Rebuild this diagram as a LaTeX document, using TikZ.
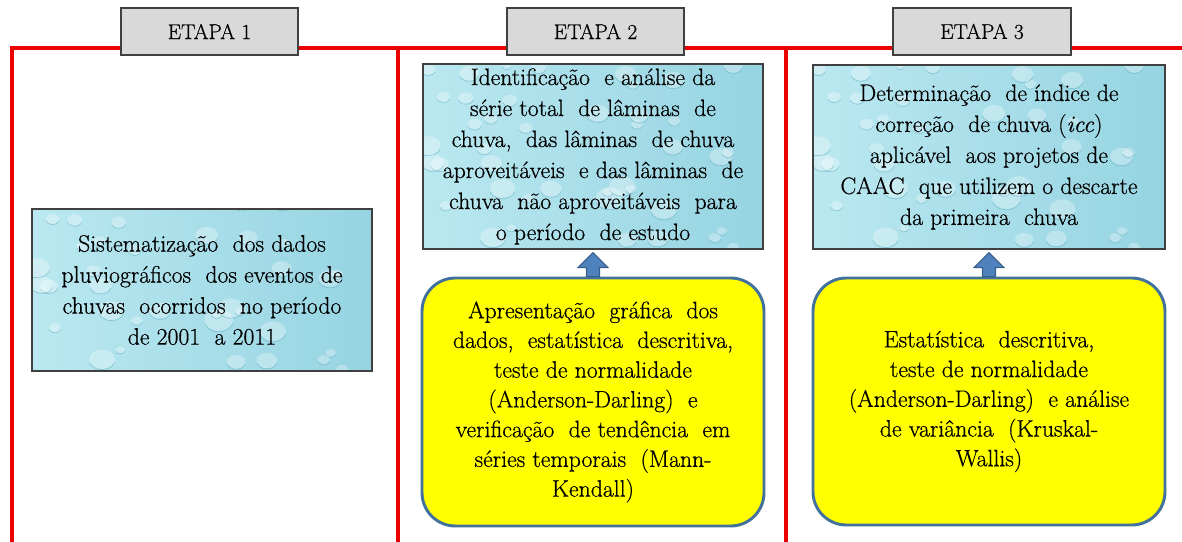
\documentclass[tikz,border=0pt]{standalone}
\usepackage{fontspec}
\setmainfont{Latin Modern Roman}[FakeBold=0.6]
\usetikzlibrary{calc}
\definecolor{lineRed}{RGB}{235,0,0}
\definecolor{etapaFill}{RGB}{217,217,217}
\definecolor{etapaDraw}{RGB}{64,64,64}
\definecolor{waterA}{RGB}{186,232,240}
\definecolor{waterB}{RGB}{150,212,226}
\definecolor{waterDark}{RGB}{95,170,190}
\definecolor{boxYellow}{RGB}{255,255,0}
\definecolor{boxBlueLine}{RGB}{65,113,156}
\definecolor{arrowFill}{RGB}{79,129,189}
\definecolor{arrowDraw}{RGB}{56,93,138}
\newcommand{\mydroplets}[2]{%
  \pgfmathsetseed{#2}%
  \foreach \k in {1,...,#1}{%
    \pgfmathsetmacro{\da}{rnd}%
    \pgfmathsetmacro{\db}{rnd}%
    \pgfmathsetmacro{\dr}{4+11*rnd}%
    \fill[white,opacity=0.30]
      ($(path picture bounding box.south west)!\da!(path picture bounding box.south east)$)
      ++(0,{-\db*260}) ellipse [x radius=\dr, y radius={0.75*\dr}];
    \draw[waterDark,opacity=0.45,line width=0.6pt]
      ($(path picture bounding box.south west)!\da!(path picture bounding box.south east)$)
      ++(0,{-\db*260}) ++(15:\dr) arc[start angle=15,end angle=165,x radius=\dr,y radius={0.75*\dr}];
  }%
}
\tikzset{
  redline/.style={draw=lineRed,line width=2.4pt},
  etapa/.style={draw=etapaDraw,fill=etapaFill,line width=0.8pt,minimum height=35.25pt,
    font=\fontsize{16pt}{19pt}\selectfont,inner sep=0pt},
  water/.style={draw=etapaDraw,line width=1pt,left color=waterA,right color=waterB,
    align=center,inner sep=0pt,font=\fontsize{17.8pt}{23.25pt}\selectfont,
    path picture={\mydroplets{#1}{11}}},
  water/.default=55,
  yellowbox/.style={draw=boxBlueLine,fill=boxYellow,line width=2.2pt,rounded corners=25pt,
    align=center,inner sep=0pt,font=\fontsize{17.8pt}{22.3pt}\selectfont},
  blockarrow/.style={fill=arrowFill,draw=arrowDraw,line width=0.8pt,line join=miter}
}
\begin{document}
\begin{tikzpicture}[x=0.75pt,y=-0.75pt]
\useasboundingbox (0,0) rectangle (1182,542);
% red frame lines
\coordinate (c0) at (12,542);
\coordinate (c1) at (12,48);
\coordinate (c2) at (1182,48);
\coordinate (c3) at (398,48);
\coordinate (c4) at (398,542);
\coordinate (c5) at (786,48);
\coordinate (c6) at (786,542);
\draw[redline] (c0) -- (c1) -- (c2);
\draw[redline] (c3) -- (c4);
\draw[redline] (c5) -- (c6);
% stage headers
\node[etapa,minimum width=132.75pt] (e1) at (209.5,31.5) {ETAPA 1};
\node[etapa,minimum width=132.75pt] (e2) at (595.5,31.5) {ETAPA 2};
\node[etapa,minimum width=133.5pt] (e3) at (982,31.5) {ETAPA 3};
% water boxes
\node[water,minimum width=255pt,minimum height=121.5pt] (b1) at (202,290) {%
Sistematização\ \ dos dados\\
pluviográficos\ \ dos eventos de\\
chuvas\ \ ocorridos\ \ no período\\
de 2001\ \ a 2011};
\node[water,minimum width=255pt,minimum height=138.75pt] (b2) at (593,156.5) {%
Identificação\ \ e análise da\\
série total\ \ de lâminas\ \ de\\
chuva,\ \ das lâminas\ \ de chuva\\
aproveitáveis\ \ e das lâminas\ \ de\\
chuva\ \ não aproveitáveis\ \ para\\
o período\ \ de estudo};
\node[water,minimum width=264pt,minimum height=138pt] (b3) at (989,157) {%
Determinação\ \ de índice de\\
correção\ \ de chuva (\textit{icc})\\
aplicável\ \ aos projetos de\\
CAAC\ \ que utilizem o descarte\\
da primeira\ \ chuva};
% yellow boxes
\node[yellowbox,minimum width=256.5pt,minimum height=186pt] (y2) at (593,402) {%
Apresentação\ \ gráfica\ \ dos\\
dados,\ \ estatística\ \ descritiva,\\
teste de normalidade\\
(Anderson-Darling)\ \ e\\
verificação\ \ de tendência\ \ em\\
séries temporais\ \ (Mann-\\
Kendall)};
\node[yellowbox,minimum width=264pt,minimum height=185.25pt] (y3) at (989,401.5) {%
Estatística\ \ descritiva,\\
teste de normalidade\\
(Anderson-Darling)\ \ e análise\\
de variância\ \ (Kruskal-\\
Wallis)};
% block arrows
\draw[blockarrow] let \p1=(b2.south), \p2=(y2.north) in
  (\x2-4.875pt,\y2) -- (\x2-4.875pt,\y1-13.5pt) -- (\x2-11.25pt,\y1-13.5pt)
  -- (\x2,\y1-2.25pt) -- (\x2+11.25pt,\y1-13.5pt) -- (\x2+4.875pt,\y1-13.5pt)
  -- (\x2+4.875pt,\y2) -- cycle;
\draw[blockarrow] let \p1=(b3.south), \p2=(y3.north) in
  (\x2-4.875pt,\y2) -- (\x2-4.875pt,\y1-13.5pt) -- (\x2-11.25pt,\y1-13.5pt)
  -- (\x2,\y1-2.25pt) -- (\x2+11.25pt,\y1-13.5pt) -- (\x2+4.875pt,\y1-13.5pt)
  -- (\x2+4.875pt,\y2) -- cycle;
\end{tikzpicture}
\end{document}
